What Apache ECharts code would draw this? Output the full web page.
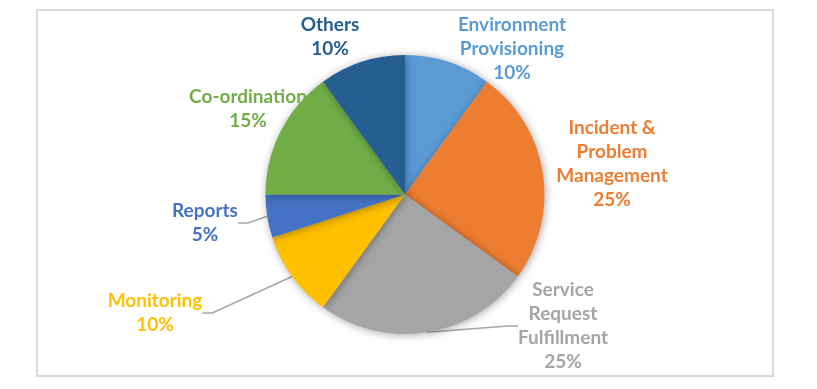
<!DOCTYPE html>
<html>
<head>
<meta charset="utf-8">
<script src="https://cdn.jsdelivr.net/npm/echarts@6/dist/echarts.min.js"></script>
<style>html,body{margin:0;padding:0;background:#fff;}#c{width:817px;height:389px;}</style>
</head>
<body>
<div id="c"></div>
<script>
const categories = ['Environment\nProvisioning', 'Incident &\nProblem\nManagement', 'Service\nRequest\nFulfillment', 'Monitoring', 'Reports', 'Co-ordination', 'Others'];
const values = [10, 25, 25, 10, 5, 15, 10];
const colors = ['#5B9BD5', '#ED7D31', '#A5A5A5', '#FFC000', '#4472C4', '#70AD47', '#255E91'];
const showLine = [false, false, true, true, true, false, false];
// label block centres (layout)
const labelPos = [[512, 49], [612, 164], [563, 326], [155, 313], [205, 223], [248, 109], [330, 37]];

const chart = echarts.init(document.getElementById('c'), null, {renderer: 'canvas'});
chart.setOption({
  animation: false,
  graphic: [{
    type: 'rect', shape: {x: 37, y: 10, width: 736, height: 366},
    style: {fill: 'none', stroke: '#D9D9D9', lineWidth: 2}, z: -10
  }],
  series: [{
    type: 'pie',
    center: [405, 194.5],
    radius: 139.5,
    startAngle: 90,
    clockwise: true,
    avoidLabelOverlap: false,
    itemStyle: {shadowBlur: 8, shadowColor: 'rgba(0,0,0,0.35)', shadowOffsetX: 1, shadowOffsetY: 1},
    label: {
      show: true, position: 'outside', formatter: '{b}\n{d}%',
      fontFamily: 'Lato', fontWeight: 'bold', fontSize: 19, lineHeight: 24, align: 'center'
    },
    labelLine: {show: true, lineStyle: {color: '#A6A6A6', width: 1.5}, length: 10, length2: 10},
    labelLayout: function (p) {
      const pos = labelPos[p.dataIndex];
      return {x: pos[0], y: pos[1], align: 'center', verticalAlign: 'middle'};
    },
    data: categories.map((c, i) => ({
      name: c, value: values[i],
      itemStyle: {color: colors[i]},
      label: {color: colors[i]},
      labelLine: {show: showLine[i]}
    }))
  }]
});
</script>
</body>
</html>
